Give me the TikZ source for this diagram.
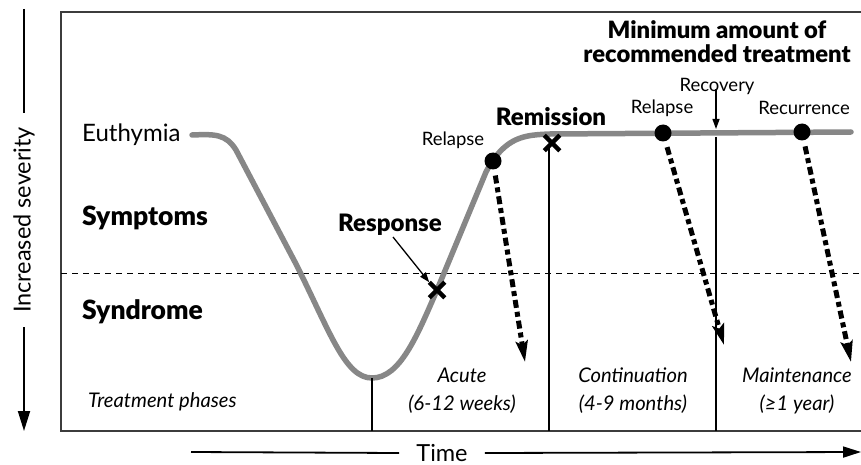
\documentclass[tikz,border=0pt]{standalone}
\usepackage{fontspec}
\setmainfont{Lato}[BoldFont={Lato Black}]
\usetikzlibrary{arrows.meta,shapes.misc}
\definecolor{coursegray}{RGB}{135,135,135}
\definecolor{framegray}{RGB}{60,60,60}
\tikzstyle{frame line}=[draw=framegray, line width=1.4pt]
\tikzstyle{threshold}=[dashed, dash pattern=on 6pt off 5pt, line width=1pt]
\tikzstyle{phase line}=[line width=1.1pt]
\tikzstyle{course}=[draw=coursegray, line width=5.5pt, line cap=round]
\tikzstyle{dot}=[circle, fill=black, inner sep=0pt, minimum size=17pt]
\tikzstyle{xmark}=[cross out, draw=black, line width=4.5pt, inner sep=0pt, minimum size=11pt]
\tikzstyle{relapse arrow}=[line width=5pt, dash pattern=on 8pt off 4pt on 5pt off 4pt,
  -{Stealth[length=21pt,width=12pt,inset=4pt]}, shorten <=6pt]
\tikzstyle{pointer}=[line width=1.3pt, -{Triangle[length=10pt,width=7pt]}]
\tikzstyle{axis line}=[line width=1.8pt]
\tikzstyle{level text}=[font=\fontsize{24}{26}\selectfont\bfseries, inner sep=0pt]
\tikzstyle{label text}=[font=\fontsize{24}{26}\selectfont, inner sep=0pt]
\tikzstyle{axis text}=[font=\fontsize{23.5}{26}\selectfont]
\tikzstyle{small text}=[font=\fontsize{18.5}{21}\selectfont, inner sep=0pt]
\tikzstyle{phase text}=[font=\fontsize{20.2}{28}\selectfont\itshape, inner sep=0pt, align=center]
\begin{document}
\begin{tikzpicture}[x=1pt,y=-1pt]
\useasboundingbox (0,0) rectangle (861,465);

% frame and threshold between symptoms and syndrome
\draw[frame line] (864,12) -- (61,12) -- (61,431) -- (864,431);
\draw[threshold] (61,273) -- (861,273);

% axes
\node[axis text, rotate=90, inner sep=14pt] (severity) at (24,220) {Increased severity};
\draw[axis line] (24,9) -- (severity.east);
\draw[axis line, -{Triangle[length=20pt,width=12pt]}] (severity.west) -- (24,431);
\node[axis text, inner sep=17pt] (time) at (442,453) {Time};
\draw[axis line] (191,452) -- (time.west);
\draw[axis line, -{Triangle[length=18pt,width=11pt]}] (time.east) -- (861,452);

% levels
\node[label text, anchor=west] (euthymia) at (82,135) {Euthymia};
\node[level text, font=\fontsize{26.5}{28}\selectfont\bfseries, anchor=west] (symptoms) at (82,218) {Symptoms};
\node[level text, font=\fontsize{26.5}{28}\selectfont\bfseries, anchor=west] (syndrome) at (82,312) {Syndrome};

% course of illness
\coordinate (start) at (192,135);
\coordinate (bottom) at (372,378);
\draw[course] (start) .. controls (215,134) and (226,134) .. (236,150)
  -- (296,264) .. controls (330,332) and (345,378) .. (bottom)
  .. controls (400,378) and (417,336) .. (437,290)
  -- (486,172) .. controls (505,136) and (525,135) .. (550,134) -- (851,132);

% phase borders
\coordinate (base) at (0,431);
\draw[phase line] (bottom) -- (bottom |- base);
\draw[phase line] (549,146) -- (549,431);
\draw[phase line] (716,137) -- (716,431);

% treatment phases
\node[phase text, anchor=west] (phases) at (88,402) {Treatment phases};
\node[phase text] (acute) at (462,391) {Acute\\(6-12 weeks)};
\node[phase text] (continuation) at (633,391) {Continuation\\(4-9 months)};
\node[phase text] (maintenance) at (797,391) {Maintenance\\(≥1 year)};

% response and remission
\node[xmark] (response) at (437,290) {};
\node[level text] (response text) at (390,225) {Response};
\draw[pointer] (393,237) -- (response.north west);
\node[xmark] (remission) at (552,143) {};
\node[level text] (remission text) at (551,117) {Remission};

% relapse and recurrence
\node[dot] (relapse1) at (493,161) {};
\node[dot] (relapse2) at (663,133) {};
\node[dot] (recurrence) at (802,132) {};
\node[small text] (relapse1 text) at (453,140) {Relapse};
\node[small text] (relapse2 text) at (662,108) {Relapse};
\node[small text] (recurrence text) at (804,108) {Recurrence};
\coordinate (relapse1 end) at (525,362);
\coordinate (relapse2 end) at (724,345);
\coordinate (recurrence end) at (851,362);
\draw[relapse arrow] (relapse1) -- (relapse1 end);
\draw[relapse arrow] (relapse2) -- (relapse2 end);
\draw[relapse arrow] (recurrence) -- (recurrence end);

% recovery
\node[small text] (recovery) at (717,86) {Recovery};
\coordinate (recovery tip) at (716,129);
\draw[pointer] ([yshift=5pt]recovery.south -| recovery tip) -- (recovery tip);

% minimum treatment
\node[level text, font=\fontsize{23.8}{24}\selectfont\bfseries, align=center] (minimum) at (717,42)
  {Minimum amount of\\recommended treatment};
\end{tikzpicture}
\end{document}
